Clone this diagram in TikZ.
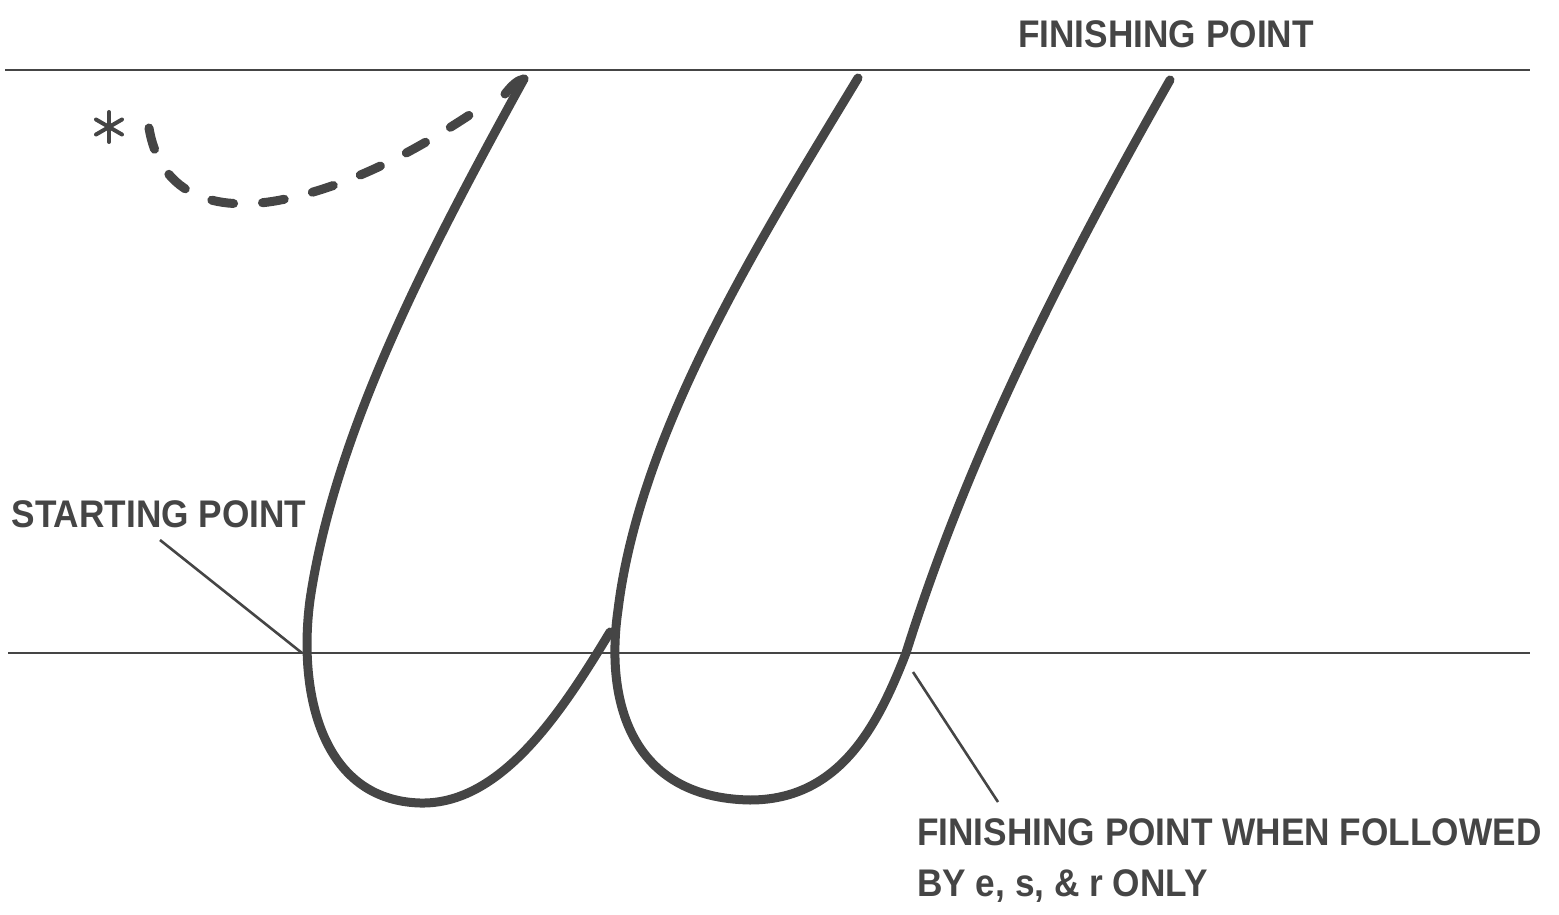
\documentclass[tikz,border=0pt]{standalone}
\usepackage{fontspec}
\setmainfont[FakeStretch=0.915]{Liberation Sans}
\definecolor{ink}{HTML}{454545}
\tikzset{
  guide/.style={draw=ink, line width=2.4pt},
  pen/.style={draw=ink, line width=9pt, line cap=round, line join=round},
  dashpen/.style={draw=ink, line width=9pt, line cap=round, dash pattern=on 22pt off 29pt},
  pointer/.style={draw=ink, line width=2.6pt},
  lbl/.style={font=\fontsize{38.5}{52}\selectfont\bfseries, text=ink, inner sep=0pt}
}
\begin{document}
\begin{tikzpicture}[x=1pt,y=-1pt]
\useasboundingbox (0,0) rectangle (1559,915);
% guide lines
\coordinate (tl) at (5,70); \coordinate (tr) at (1530,70);
\coordinate (bl) at (8,653); \coordinate (br) at (1530,653);
\draw[guide] (tl) -- (tr);
\draw[guide] (bl) -- (br);
% key points
\coordinate (t1) at (524,79);
\coordinate (s1) at (302,653);
\coordinate (j) at (610,632);
\coordinate (t2) at (858,78);
\coordinate (f2) at (906,653);
\coordinate (t3) at (1170,80);
% first stroke
\draw[pen] (t1) .. controls (430,250) and (335,430) .. (310,600)
  .. controls (298,690) and (320,800) .. (420,803)
  .. controls (500,805) and (560,715) .. (j);
% second stroke
\draw[pen] (t2) .. controls (760,240) and (640,430) .. (618,610)
  .. controls (605,700) and (630,798) .. (750,800)
  .. controls (840,800) and (878,725) .. (f2)
  .. controls (962,475) and (1045,300) .. (t3);
% asterisk
\coordinate (ac) at (109,127);
\foreach \a in {90,30,150} {
  \draw[ink, line width=4pt, line cap=round] (ac) ++(\a:15) -- ++(\a+180:30);
}
\node[inner sep=0pt] (ast) at (ac) {};
% dashed approach with hooked end
\coordinate (d0) at (149,128);
\coordinate (hk) at (505,94);
\draw[dashpen] (d0) .. controls (162,205) and (230,212) .. (290,198)
  .. controls (370,180) and (440,135) .. (486,104);
\draw[pen] (hk) .. controls (513,84) and (518,80) .. (t1);
% labels
\node[lbl] (fp) at (1166,34) {FINISHING POINT};
\node[lbl] (sp) at (159,514) {STARTING POINT};
\node[lbl, anchor=north west, align=left] (fw) at (917,818) {FINISHING POINT WHEN FOLLOWED\\[-0.2pt]BY e, s, \& r ONLY};
% pointers
\coordinate (p1) at (160,540);
\coordinate (p2) at (998,802);
\coordinate (q2) at (913,672);
\draw[pointer] (p1) -- (s1);
\draw[pointer] (p2) -- (q2);
\end{tikzpicture}
\end{document}
